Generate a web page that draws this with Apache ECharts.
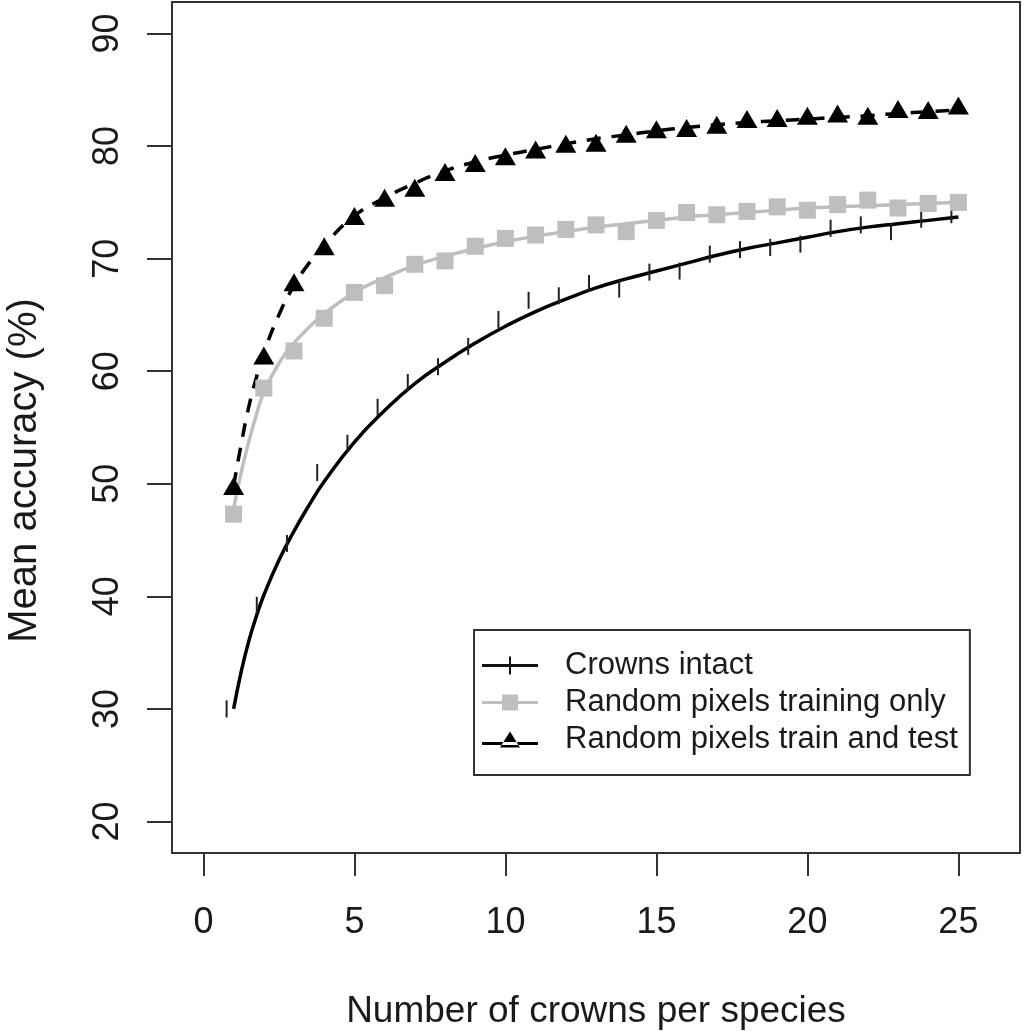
<!DOCTYPE html>
<html>
<head>
<meta charset="utf-8">
<script src="https://cdn.jsdelivr.net/npm/echarts@6/dist/echarts.min.js"></script>
<style>
html,body{margin:0;padding:0;background:#fff;}
#chart{width:1024px;height:1031px;}
</style>
</head>
<body>
<div id="chart"></div>
<script>
// ---- data ----
const crowns = [1,2,3,4,5,6,7,8,9,10,11,12,13,14,15,16,17,18,19,20,21,22,23,24,25];
const intactPoints = [30.0,39.2,44.7,51.0,53.6,56.8,59.0,60.4,62.2,64.6,66.3,66.7,67.8,67.3,68.8,68.9,70.4,70.8,71.0,71.3,72.7,73.0,72.4,73.5,73.9];
const trainOnlyPoints = [47.3,58.5,61.8,64.7,67.0,67.6,69.5,69.8,71.1,71.8,72.1,72.6,73.0,72.4,73.4,74.1,73.9,74.2,74.6,74.3,74.8,75.2,74.5,74.9,75.0];
const trainTestPoints = [49.8,61.4,67.9,71.1,73.8,75.4,76.3,77.7,78.5,79.1,79.7,80.2,80.3,81.1,81.5,81.6,81.9,82.4,82.5,82.7,82.9,82.7,83.3,83.2,83.6];

// fitted curves
const fitX = [1,1.25,1.5,1.75,2,2.5,3,3.5,4,5,6,7,8,9,10,11,12,13,14,15,16,17,18,19,20,21,22,23,24,25];
const intactFit = [30.0,33.3,36.0,38.2,40.1,43.2,45.8,48.1,50.2,53.7,56.5,58.9,60.8,62.5,64.0,65.3,66.4,67.4,68.2,68.9,69.6,70.3,70.9,71.4,71.9,72.4,72.8,73.1,73.4,73.7];
const trainOnlyFit = [47.8,51.0,53.7,56.1,58.1,60.7,62.5,63.9,65.1,67.0,68.3,69.4,70.2,70.9,71.5,72.0,72.4,72.8,73.1,73.4,73.7,73.9,74.1,74.3,74.5,74.6,74.7,74.8,74.9,75.0];
const trainTestFit = [49.8,53.5,56.8,59.4,61.6,65.0,67.6,69.6,71.2,73.8,75.4,76.7,77.8,78.6,79.2,79.7,80.2,80.65,81.0,81.35,81.65,81.9,82.1,82.25,82.4,82.55,82.7,82.9,83.05,83.2];

const xTicks = [0,5,10,15,20,25];
const yTicks = [20,30,40,50,60,70,80,90];
const seriesNames = ['Crowns intact','Random pixels training only','Random pixels train and test'];

const pairs = (xs, ys) => xs.map((x, i) => [x, ys[i]]);

const FONT = "'Liberation Sans', Arial, Helvetica, sans-serif";
const TXT = '#1a1a1a';
const GREY = '#bebebe';

const chart = echarts.init(document.getElementById('chart'), null, {renderer: 'canvas'});

const option = {
  animation: false,
  backgroundColor: '#fff',
  grid: {left: 172, top: 2, right: 4, bottom: 178, show: true, borderColor: '#333', borderWidth: 2,
         backgroundColor: 'transparent', containLabel: false, outerBoundsMode: 'none'},
  xAxis: {
    type: 'value', min: -1.04, max: 27.04,
    name: 'Number of crowns per species', nameLocation: 'middle', nameGap: 140,
    nameTextStyle: {fontFamily: FONT, fontSize: 37, color: TXT},
    axisLine: {show: false, onZero: false},
    splitLine: {show: false},
    axisTick: {show: true, inside: false, length: 23, lineStyle: {color: '#333', width: 2}, customValues: xTicks},
    axisLabel: {show: true, margin: 52, fontFamily: FONT, fontSize: 36, color: TXT, customValues: xTicks, formatter: v => String(v)}
  },
  yAxis: {
    type: 'value', min: 17.2, max: 92.8,
    name: 'Mean accuracy (%)', nameLocation: 'middle', nameGap: 127, nameRotate: 90,
    nameTextStyle: {fontFamily: FONT, fontSize: 40, color: TXT, padding: [0, 86, 0, 0]},
    axisLine: {show: false, onZero: false},
    splitLine: {show: false},
    axisTick: {show: true, inside: false, length: 25, lineStyle: {color: '#333', width: 2}, customValues: yTicks},
    axisLabel: {show: true, rotate: 90, margin: 46, fontFamily: FONT, fontSize: 36, color: TXT, customValues: yTicks, formatter: v => String(v)}
  },
  legend: {
    orient: 'vertical', left: 474, top: 630,
    backgroundColor: '#fff', borderColor: '#333', borderWidth: 2,
    padding: [17, 12, 17, 8], itemGap: 0, itemWidth: 56, itemHeight: 22,
    selectedMode: false,
    textStyle: {fontFamily: FONT, fontSize: 31, color: TXT, lineHeight: 37, padding: [0, 0, 0, 22]},
    data: [
      {name: seriesNames[0], icon: 'path://M0,7.5 L56,7.5 L56,10.5 L0,10.5 Z M27,0 L29,0 L29,18 L27,18 Z', itemStyle: {color: '#111', borderWidth: 0, opacity: 1}},
      {name: seriesNames[1], icon: 'path://M0,7.5 L56,7.5 L56,10.5 L0,10.5 Z M20,1 L36,1 L36,17 L20,17 Z', itemStyle: {color: GREY, borderWidth: 0, opacity: 1}},
      {name: seriesNames[2], icon: 'path://M0,10.5 L56,10.5 L56,13.5 L0,13.5 Z M18,16 L38,16 L28,0 Z', itemStyle: {color: '#000', borderWidth: 0, opacity: 1}}
    ]
  },
  series: [
    {
      name: seriesNames[0], type: 'line', data: pairs(fitX, intactFit),
      smooth: 0.5, showSymbol: false, symbol: 'none', z: 2,
      lineStyle: {color: '#000', width: 3.5}, itemStyle: {color: '#000'}
    },
    {
      name: seriesNames[0], type: 'scatter', data: pairs(crowns, intactPoints),
      symbol: 'rect', symbolSize: [2, 17], symbolOffset: [-7, 0], z: 3,
      itemStyle: {color: '#222', opacity: 1}
    },
    {
      name: seriesNames[1], type: 'line', data: pairs(fitX, trainOnlyFit),
      smooth: 0.5, showSymbol: false, symbol: 'none', z: 2,
      lineStyle: {color: GREY, width: 3.5}, itemStyle: {color: GREY}
    },
    {
      name: seriesNames[1], type: 'scatter', data: pairs(crowns, trainOnlyPoints),
      symbol: 'rect', symbolSize: 17, z: 3,
      itemStyle: {color: GREY, opacity: 1}
    },
    {
      name: seriesNames[2], type: 'line', data: pairs(fitX, trainTestFit),
      smooth: 0.5, showSymbol: false, symbol: 'none', z: 2,
      lineStyle: {color: '#000', width: 3.5, type: [14, 11]}, itemStyle: {color: '#000'}
    },
    {
      name: seriesNames[2], type: 'scatter', data: pairs(crowns, trainTestPoints),
      symbol: 'triangle', symbolSize: [21, 18], z: 4,
      itemStyle: {color: '#000', opacity: 1}
    }
  ]
};
chart.setOption(option);
</script>
</body>
</html>
